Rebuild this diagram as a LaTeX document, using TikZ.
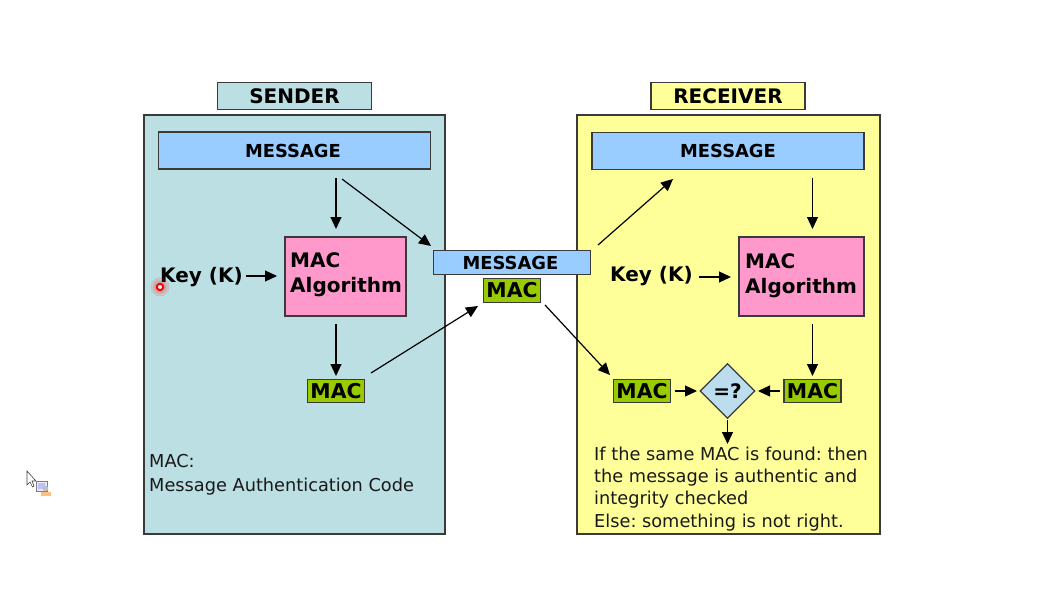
\documentclass[tikz,border=0pt]{standalone}
\usepackage{fontspec}
\setmainfont{DejaVu Sans}
\frenchspacing
\usetikzlibrary{arrows.meta,shapes.geometric}
\definecolor{panelblue}{HTML}{BCDFE3}
\definecolor{panelyellow}{HTML}{FFFF99}
\definecolor{msgblue}{HTML}{99CCFF}
\definecolor{algpink}{HTML}{FF99CC}
\definecolor{macgreen}{HTML}{99CC00}
\definecolor{linegray}{HTML}{3A3A3A}
\definecolor{difblue}{HTML}{BBDDEE}
\tikzset{
  box/.style={draw=linegray,line width=1.2pt,inner sep=0pt,outer sep=0pt},
  panel/.style={box,anchor=north west},
  msgbox/.style={box,fill=msgblue,font=\fontsize{17.9}{20}\selectfont\bfseries},
  macbox/.style={box,fill=macgreen,font=\fontsize{20.4}{24}\selectfont\bfseries,minimum width=57pt,minimum height=23.5pt},
  algbox/.style={box,fill=algpink,anchor=north west},
  flow/.style={-{Triangle[length=12pt,width=11pt]},line width=1.2pt,black},
  bigtxt/.style={font=\fontsize{20}{24.5}\selectfont\bfseries,align=left,inner sep=0pt},
  smalltxt/.style={font=\fontsize{17.75}{22.4}\selectfont,align=left,inner sep=0pt,anchor=north west,text=black!90},
}
\begin{document}
\begin{tikzpicture}[x=1pt,y=-1pt]
\useasboundingbox (0,0) rectangle (1043,596);
% panels
\node[panel,fill=panelblue,minimum width=301pt,minimum height=419pt] (sp) at (144,115) {};
\node[panel,fill=panelyellow,minimum width=303pt,minimum height=419pt] (rp) at (577,115) {};
\node[box,fill=panelblue,minimum width=154pt,minimum height=27pt,font=\fontsize{20}{24}\selectfont\bfseries] (st) at (294.5,96) {SENDER};
\node[box,fill=panelyellow,minimum width=154pt,minimum height=27pt,font=\fontsize{20}{24}\selectfont\bfseries] (rt) at (728,96) {RECEIVER};
% message bars
\node[msgbox,minimum width=272pt,minimum height=37pt] (sm) at (294.5,150.5) {\hspace*{-3pt}MESSAGE};
\node[msgbox,minimum width=272pt,minimum height=37pt] (rm) at (728,151) {MESSAGE};
\node[msgbox,minimum width=157pt,minimum height=24pt] (cm) at (512,262.5) {\hspace*{-3pt}MESSAGE};
% algorithms
\node[algbox,minimum width=121pt,minimum height=79pt] (sa) at (285,237) {};
\node[bigtxt,anchor=west] (sat) at (290,274.5) {MAC\\Algorithm};
\node[algbox,minimum width=125pt,minimum height=79pt] (ra) at (739,237) {};
\node[bigtxt,anchor=west] (rat) at (745,275.5) {MAC\\Algorithm};
% keys
\node[bigtxt,anchor=west] (sk) at (160,277) {Key (K)};
\node[bigtxt,anchor=west] (rk) at (610,276) {Key (K)};
% macs
\node[macbox] (sc) at (336,391) {MAC};
\node[macbox] (cc) at (512,290.5) {MAC};
\node[macbox] (rl) at (642,391) {MAC};
\node[macbox] (rr) at (812.5,391) {MAC};
\node[diamond,aspect=1,draw=linegray,line width=1.2pt,fill=difblue,inner sep=0pt,minimum width=55pt,minimum height=55pt,font=\fontsize{20}{24}\selectfont\bfseries] (eq) at (727.5,391) {=?};
% texts
\node[smalltxt] (note) at (149,454.5) {MAC:\\[1.3pt]Message Authentication Code};
\node[smalltxt] (res) at (594,446.5) {If the same MAC is found: then\\the message is authentic and\\integrity checked\\Else: something is not right.};
% connector ends
\coordinate (a1) at (336,178); \coordinate (a1e) at (336,229);
\coordinate (a2) at (342,179); \coordinate (a2e) at (431,246);
\coordinate (a3) at (246,276); \coordinate (a3e) at (277,276);
\coordinate (a4) at (336,324); \coordinate (a4e) at (336,376);
\coordinate (a5) at (371,373); \coordinate (a5e) at (478,306);
\coordinate (a6) at (545,305); \coordinate (a6e) at (610,375);
\coordinate (a7) at (598,245); \coordinate (a7e) at (673,179);
\coordinate (a8) at (812.5,178); \coordinate (a8e) at (812.5,229);
\coordinate (a9) at (699,277); \coordinate (a9e) at (731,277);
\coordinate (a10) at (812.5,324); \coordinate (a10e) at (812.5,376);
\coordinate (a11) at (675,391); \coordinate (a11e) at (697,391);
\coordinate (a12) at (780,391); \coordinate (a12e) at (758,391);
\coordinate (a13) at (727.5,420); \coordinate (a13e) at (727.5,444);
\foreach \n in {1,...,13} \draw[flow] (a\n) -- (a\n e);
% screen artefacts
\fill[red,opacity=.12] (160,287) circle (9.5pt);
\fill[red,opacity=.15] (160,287) circle (6.5pt);
\draw[red,line width=2pt,fill=white] (160,287) circle (3.2pt);
\draw[black!75,fill=white,line width=.6pt] (27,471) -- (27,485) -- (30,482) -- (32.5,487) -- (34,486) -- (32,481) -- (36,481) -- cycle;
\draw[black!50,fill=black!8,line width=.8pt] (36,481) rectangle (47,491);
\fill[blue!25] (38,483) rectangle (45,489);
\fill[orange!50] (41,492) rectangle (51,496);
\fill[black!25] (45.5,488.5) circle (2.8pt);
\end{tikzpicture}
\end{document}
